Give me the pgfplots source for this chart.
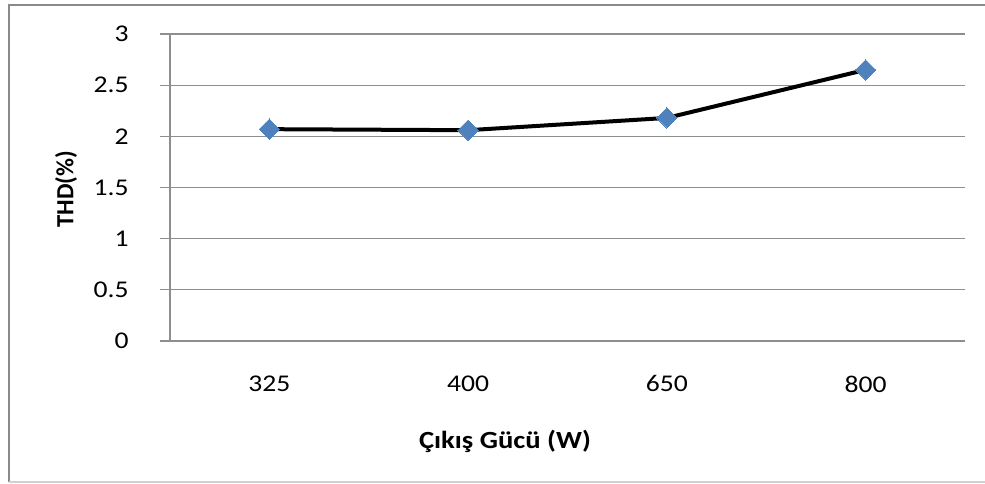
\documentclass[border=0pt]{standalone}
\usepackage{pgfplots}
\pgfplotsset{compat=1.18}
\usepackage{fontspec}
\setmainfont{Carlito}
\definecolor{markblue}{HTML}{4F81BD}
\definecolor{gridgray}{HTML}{8E8E8E}
\definecolor{framegray}{HTML}{8A8A8A}
\definecolor{framelight}{HTML}{D0D0D0}
\begin{document}
\begin{tikzpicture}[x=0.75pt,y=0.75pt]
\useasboundingbox (0,0) rectangle (985,483);
% outer chart frame
\draw[framegray,line width=1.5pt] (9,1) -- (9,478) -- (985,478);
\draw[framelight,line width=1pt] (9,1) -- (985,1);
\begin{axis}[
  at={(127.5pt,106.5pt)}, anchor=south west,
  scale only axis,
  width=596.25pt, height=230.25pt,
  xmin=-0.5, xmax=3.5,
  ymin=0, ymax=3,
  xtick={0,1,2,3},
  xticklabels={325,400,650,800},
  ytick={0,0.5,1,1.5,2,2.5,3},
  yticklabels={0,0.5,1,1.5,2,2.5,3},
  axis x line*=bottom,
  axis y line*=left,
  axis line style={gridgray, line width=0.8pt, -},
  ymajorgrids,
  grid style={gridgray, line width=0.8pt},
  xtick style={draw=none},
  ytick style={gridgray, line width=0.8pt},
  tick align=outside,
  major tick length=7.5pt,
  tick label style={font=\fontsize{18}{21}\selectfont, black, xscale=1.15},
  yticklabel style={anchor=east, xshift=-17pt},
  xticklabel style={anchor=north, yshift=-15pt},
  /pgf/number format/assume math mode=true,
  clip=false,
]
\addplot[black, line width=3pt, mark=square*, mark size=5.4pt,
  mark options={rotate=45, fill=markblue, draw=markblue, line width=0pt}]
  coordinates {(0,2.07) (1,2.06) (2,2.18) (3,2.65)};
\end{axis}
\node[font=\bfseries\fontsize{18.5}{21}\selectfont, rotate=90] at (66,294) {THD(\%)};
\node[font=\bfseries\fontsize{18.5}{21}\selectfont, xscale=1.16] at (505,42) {Çıkış Gücü (W)};
\end{tikzpicture}
\end{document}
